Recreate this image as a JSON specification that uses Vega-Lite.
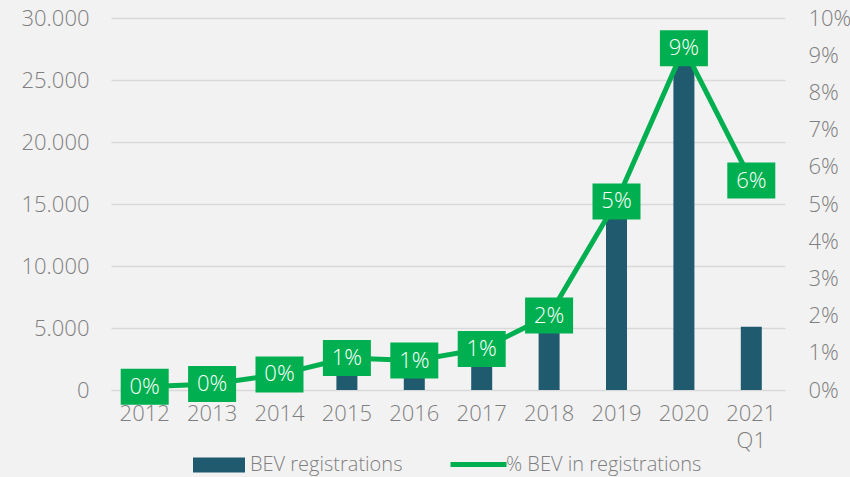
{
  "$schema": "https://vega.github.io/schema/vega-lite/v6.json",
  "autosize": {"type": "none"},
  "padding": {"left": 111, "top": 18, "right": 65, "bottom": 87},
  "width": 674,
  "height": 372,
  "background": "#F2F2F2",
  "config": {
    "locale": {"number": {"decimal": ",", "thousands": ".", "grouping": [3], "currency": ["", " €"]}},
    "view": {"stroke": null},
    "font": "Open Sans",
    "axis": {"labelFont": "Open Sans", "labelFontWeight": 300, "labelColor": "#7F7F7F", "labelFontSize": 22, "ticks": false, "domain": false, "title": null},
    "legend": {"orient": "none", "direction": "horizontal", "title": null, "labelFont": "Open Sans", "labelFontWeight": 300, "labelFontSize": 20, "labelColor": "#7F7F7F", "labelLimit": 400}
  },
  "data": {"values": [
    {"year": "2012", "bev": 300, "share": 0.0009},
    {"year": "2013", "bev": 450, "share": 0.0016},
    {"year": "2014", "bev": 1250, "share": 0.0042},
    {"year": "2015", "bev": 2950, "share": 0.0086},
    {"year": "2016", "bev": 2950, "share": 0.0079},
    {"year": "2017", "bev": 4200, "share": 0.011},
    {"year": "2018", "bev": 7050, "share": 0.020},
    {"year": "2019", "bev": 15650, "share": 0.0507},
    {"year": "2020", "bev": 28100, "share": 0.0919},
    {"year": "2021 Q1", "bev": 5100, "share": 0.0563}
  ]},
  "encoding": {
    "x": {"field": "year", "type": "nominal", "sort": null, "scale": {"paddingInner": 0, "paddingOuter": 0},
      "axis": {"labelAngle": 0, "labelPadding": 13, "labelExpr": "split(datum.label, ' ')", "labelLineHeight": 27, "labelBaseline": "top"}}
  },
  "layer": [
    {
      "mark": {"type": "bar", "size": 21},
      "encoding": {
        "y": {"field": "bev", "type": "quantitative", "scale": {"domain": [0, 30000]},
          "axis": {"values": [0, 5000, 10000, 15000, 20000, 25000, 30000], "format": ",.0f", "grid": true, "gridColor": "#D9D9D9", "gridWidth": 1.5, "labelPadding": 22}},
        "fill": {"datum": "BEV registrations", "type": "nominal", "scale": {"range": ["#1F5A6E"]},
          "legend": {"legendX": 82, "legendY": 421, "symbolType": "M-1,-0.29L1,-0.29L1,0.29L-1,0.29Z", "symbolSize": 2704, "symbolStrokeWidth": 0, "labelOffset": 5}}
      }
    },
    {
      "encoding": {
        "y": {"field": "share", "type": "quantitative", "scale": {"domain": [0, 0.1]},
          "axis": {"orient": "right", "values": [0, 0.01, 0.02, 0.03, 0.04, 0.05, 0.06, 0.07, 0.08, 0.09, 0.1], "format": ".0%", "grid": false, "labelPadding": 23}}
      },
      "layer": [
        {
          "mark": {"type": "line", "strokeWidth": 5},
          "encoding": {
            "stroke": {"datum": "% BEV in registrations", "type": "nominal", "scale": {"range": ["#00B050"]},
              "legend": {"legendX": 337, "legendY": 416, "symbolType": "stroke", "symbolSize": 3136, "symbolStrokeWidth": 5, "labelOffset": -3}}
          }
        },
        {
          "mark": {"type": "point", "shape": "M-1,-0.75L1,-0.75L1,0.75L-1,0.75Z", "size": 2304, "filled": true, "color": "#00B050", "opacity": 1, "strokeWidth": 0}
        },
        {
          "mark": {"type": "text", "color": "#FFFFFF", "fontSize": 22, "fontWeight": 300, "font": "Open Sans", "baseline": "middle", "align": "center"},
          "encoding": {"text": {"field": "share", "type": "quantitative", "format": ".0%"}}
        }
      ]
    }
  ],
  "resolve": {"scale": {"y": "independent", "fill": "independent", "stroke": "independent"}}
}
